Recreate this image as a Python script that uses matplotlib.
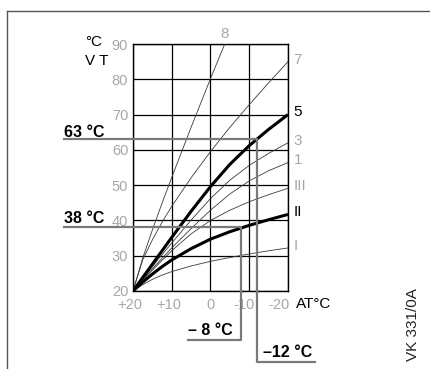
import matplotlib
matplotlib.use("Agg")
import matplotlib.pyplot as plt
from matplotlib.lines import Line2D
from matplotlib.transforms import ScaledTranslation

plt.rcParams['font.family'] = ['Liberation Sans', 'DejaVu Sans']

W, H = 431, 369

# Außentemperatur AT (°C), x-Achse läuft von +20 nach -20
at_points = [20, 17.5, 15, 12.5, 10, 5, 0, -5, -10, -15, -20]

# Vorlauftemperatur VT (°C) je Heizkennlinie
vt_8 = [20, 29.3, 37.3, 44.9, 52.2, 66.4, 80.2, 93.5]
vt_7 = [20, 28.8, 34.5, 39.5, 44.0, 52.1, 59.5, 66.4, 72.8, 79.0, 85.0]
vt_5 = [20, 23.8, 27.6, 31.4, 35.2, 42.6, 49.6, 55.9, 61.2, 65.8, 70.0]
vt_3 = [20, 23.5, 26.9, 30.3, 33.6, 40.1, 46.2, 51.4, 55.6, 59.0, 62.0]
vt_1 = [20, 23.2, 26.3, 29.3, 32.2, 37.7, 42.9, 47.5, 51.2, 54.1, 56.4]
vt_III = [20, 23.0, 25.9, 28.7, 31.4, 36.2, 40.0, 42.9, 45.3, 47.3, 49.1]
vt_II = [20, 22.5, 24.8, 26.9, 28.8, 32.0, 34.7, 36.8, 38.6, 40.2, 41.7]
vt_I = [20, 21.8, 23.3, 24.5, 25.5, 27.1, 28.4, 29.5, 30.5, 31.4, 32.2]

curve_names = ['8', '7', '5', '3', '1', 'III', 'II', 'I']
curve_values = [vt_8, vt_7, vt_5, vt_3, vt_1, vt_III, vt_II, vt_I]
thick_curves = ['5', 'II']

x_ticks = [20, 10, 0, -10, -20]
x_tick_labels = ['+20', '+10', '0', '-10', '-20']
y_ticks = [20, 30, 40, 50, 60, 70, 80, 90]

# Beispielpunkte
mark_at = [-12, -8]
mark_vt = [63, 38]


def px(x, y):
    # Pixel im Bild -> Figure-Koordinaten
    return x / W, 1 - y / H


fig = plt.figure(figsize=(W / 100, H / 100), dpi=100)
ax = fig.add_axes([133 / W, 1 - 291 / H, 155 / W, 247 / H])
ax.set_xlim(20, -20)
ax.set_ylim(20, 90)
ax.set_xticks(x_ticks)
ax.set_xticklabels(x_tick_labels)
ax.set_yticks(y_ticks)
ax.tick_params(length=0, colors='#a8a8a8', labelsize=10.5)
ax.tick_params(axis='y', pad=3.5)
ax.tick_params(axis='x', pad=5)
ax.grid(color='black', lw=0.9)
for sp in ax.spines.values():
    sp.set_linewidth(1.0)

# x-Beschriftungen stehen im Original etwas nach links versetzt
x_label_shift = [-3, -2.5, 0, -5, -9]
for lab, dx in zip(ax.get_xticklabels(), x_label_shift):
    lab.set_transform(lab.get_transform() + ScaledTranslation(dx / 100, 0, fig.dpi_scale_trans))

# Heizkennlinien
for name, vals in zip(curve_names, curve_values):
    xs = at_points[:len(vals)]
    if name in thick_curves:
        ax.plot(xs, vals, color='black', lw=2.2, zorder=4, solid_capstyle='butt',
                solid_joinstyle='round')
    else:
        ax.plot(xs, vals, color='#3a3a3a', lw=0.6, zorder=3)
    if name == '8':
        ax.annotate(name, xy=(-3.7, 90), xytext=(0, 7.5), textcoords='offset points',
                    ha='center', va='center', color='#a8a8a8', fontsize=11,
                    annotation_clip=False)
    else:
        ax.annotate(name, xy=(xs[-1], vals[-1]), xytext=(4, 1.5), textcoords='offset points',
                    ha='left', va='center', fontsize=11,
                    color='black' if name in thick_curves else '#a8a8a8',
                    annotation_clip=False)


# Hilfslinien für die Beispiele
def to_axes(at, vt):
    return ax.transAxes.inverted().transform(ax.transData.transform((at, vt)))


p63 = to_axes(mark_at[0], mark_vt[0])
p38 = to_axes(mark_at[1], mark_vt[1])
ax.plot([-0.445, p63[0], p63[0], 1.174], [p63[1], p63[1], -0.287, -0.287],
        transform=ax.transAxes, clip_on=False, color='#7a7a7a', lw=1.6, zorder=5)
ax.plot([-0.445, p38[0], p38[0], 0.355], [p38[1], p38[1], -0.198, -0.198],
        transform=ax.transAxes, clip_on=False, color='#7a7a7a', lw=1.6, zorder=5)

fig.text(*px(64, 137), '63 °C', fontsize=11.5, fontweight='bold', va='baseline', ha='left')
fig.text(*px(64, 223), '38 °C', fontsize=11.5, fontweight='bold', va='baseline', ha='left')
fig.text(*px(188, 335), '– 8 °C', fontsize=11.5, fontweight='bold', va='baseline', ha='left')
fig.text(*px(263, 357), '–12 °C', fontsize=11.5, fontweight='bold', va='baseline', ha='left')

# Achsenbeschriftungen
fig.text(*px(94, 42), '°C', fontsize=11, ha='center', va='center')
fig.text(*px(97, 61), 'V T', fontsize=11, ha='center', va='center')
fig.text(*px(296, 304), 'AT°C', fontsize=11, ha='left', va='center')
fig.text(*px(413, 325), 'VK 331/0A', fontsize=11, rotation=90, ha='center', va='center',
         color='#222222')

# Rahmen
fig.add_artist(Line2D([7.3 / W, 1], [1 - 10.7 / H] * 2, color='#555555', lw=1.0))
fig.add_artist(Line2D([7.3 / W] * 2, [0, 1 - 10.7 / H], color='#555555', lw=1.0))

fig.savefig('out.png', dpi=100)
